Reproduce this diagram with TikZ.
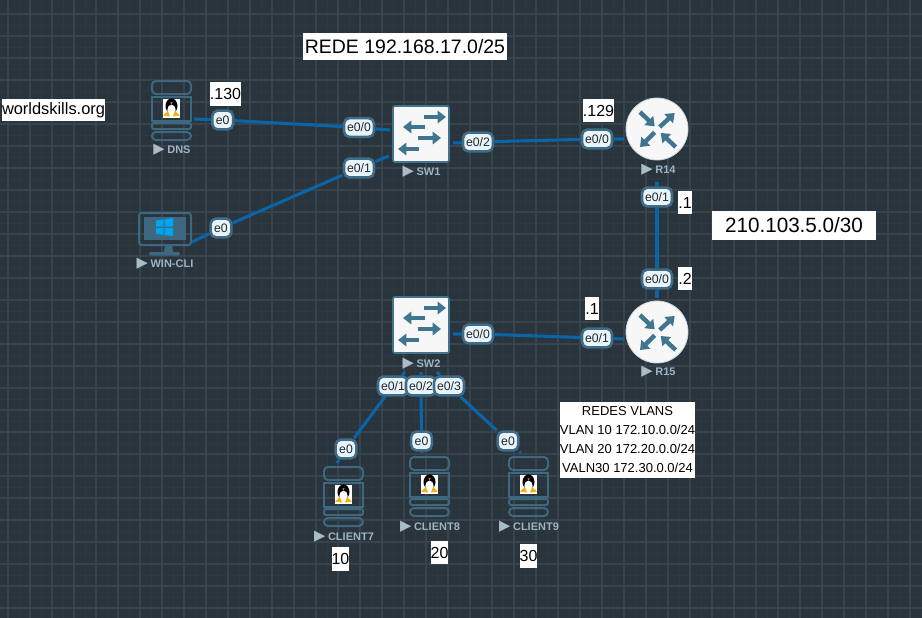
\documentclass[tikz,border=0pt]{standalone}
\usepackage{fontspec}
\setmainfont{Liberation Sans}
\newfontfamily\symfont{DejaVu Sans}
\usetikzlibrary{arrows.meta, positioning}
\definecolor{mybg}{RGB}{42,52,60}
\definecolor{mygrid}{RGB}{55,68,77}
\definecolor{myminor}{RGB}{46,56,64}
\definecolor{myicon}{RGB}{62,104,128}
\definecolor{myarrow}{RGB}{65,117,143}
\definecolor{mylink}{RGB}{10,100,168}
\definecolor{myport}{RGB}{232,244,252}
\definecolor{myportline}{RGB}{64,108,136}
\definecolor{mylabel}{RGB}{158,180,194}
\definecolor{myplay}{RGB}{170,188,198}
\definecolor{mywin}{RGB}{0,164,239}
\definecolor{mytux}{RGB}{245,175,20}
\newcommand{\devtext}[1]{{\symfont\color{myplay}\fontsize{11}{10}\selectfont ▶}\hspace{2pt}#1}

\begin{document}
\begin{tikzpicture}[x=0.75pt,y=-0.75pt,
    port/.style={draw=myportline,fill=myport,line width=1.9pt,rounded corners=4.2pt,inner sep=0pt,minimum height=14.2pt,font=\fontsize{9.2}{10}\selectfont,text=black!85},
    portwide/.style={port,minimum width=22.5pt},
    portshort/.style={port,minimum width=15.6pt},
    link/.style={draw=mylink,line width=2.3pt},
    devlabel/.style={font=\bfseries\fontsize{8.25}{10}\selectfont,text=mylabel,inner sep=0pt},
    whitebox/.style={fill=white,text=black,inner sep=0pt},
    swnode/.style={draw=myarrow,fill=white!97!black,line width=1.2pt,rounded corners=1.5pt,minimum size=42pt,inner sep=0pt},
    rtnode/.style={circle,fill=white!97!black,draw=white!70!myarrow,line width=0.6pt,minimum size=46.5pt,inner sep=0pt},
    devarrow/.style={draw=myarrow,line width=3.3pt,-{Triangle[length=6.2pt,width=9.2pt]}},
    srvline/.style={draw=myicon,line width=1.5pt},
    swarrows/.pic={
        \draw[devarrow] (3,-17) -- (25,-17);
        \draw[devarrow] (4,-7) -- (-18,-7);
        \draw[devarrow] (-3,4) -- (20,4);
        \draw[devarrow] (-2,15) -- (-23,15);
    },
    rtarrows/.pic={
        \draw[devarrow] (-17,-17) -- (-2.3,-2.7);
        \draw[devarrow] (2.7,-2) -- (17.7,-16);
        \draw[devarrow] (-2.3,3.3) -- (-17,18);
        \draw[devarrow] (18.7,18) -- (3.7,4);
    },
    tux/.pic={
        \fill[white] (-8.5,-9.5) rectangle (8.5,9.5);
        \fill[black] (0,-2) ellipse (6 and 7.5);
        \fill[black] (0,-6) ellipse (3.4 and 3.4);
        \fill[white] (0,2) ellipse (4.2 and 5.4);
        \fill[mytux] (-8.5,7.5) -- (-3.5,3) -- (-1.5,8.5) -- cycle;
        \fill[mytux] (8.5,7.5) -- (3.5,3) -- (1.5,8.5) -- cycle;
        \fill[mytux] (-1.2,-5.6) -- (1.2,-5.6) -- (0,-4) -- cycle;
    },
    server/.pic={
        \draw[srvline,rounded corners=3pt] (-19.5,-29) rectangle (19.5,-16);
        \draw[srvline] (-19.5,-13) rectangle (19.5,11);
        \draw[srvline,rounded corners=1.5pt] (-19.5,13) rectangle (19.5,19);
        \draw[srvline,rounded corners=3pt] (-19.5,22) rectangle (19.5,30);
        \pic at (0,-2) {tux};
    }]
    % background and grid
    \fill[mybg] (0,0) rectangle (922,618);
    \useasboundingbox (0,0) rectangle (922,618);
    \foreach \gx in {19,41,...,922} {
        \draw[myminor,line width=0.6pt] (\gx,0) -- (\gx,618);
    }
    \foreach \gy in {25,47,...,618} {
        \draw[myminor,line width=0.6pt] (0,\gy) -- (922,\gy);
    }
    \foreach \gx in {8,30,...,922} {
        \draw[mygrid,line width=0.8pt] (\gx,0) -- (\gx,618);
    }
    \foreach \gy in {14,36,...,618} {
        \draw[mygrid,line width=0.8pt] (0,\gy) -- (922,\gy);
    }

    % devices
    \node[swnode] (sw1) at (421,134) {};
    \node[swnode] (sw2) at (421,325) {};
    \node[rtnode] (r14) at (657,129) {};
    \node[rtnode] (r15) at (657,332) {};
    \foreach \dev in {sw1,sw2} {
        \pic at (\dev) {swarrows};
    }
    \foreach \dev in {r14,r15} {
        \pic at (\dev) {rtarrows};
    }
    \foreach \srv/\px/\py in {dns/171.5/110,client7/343.5/496,client8/429.5/486,client9/528.5/486} {
        \coordinate (\srv) at (\px,\py);
        \pic at (\srv) {server};
    }

    % windows client
    \coordinate (wincli) at (165,233);
    \draw[srvline,rounded corners=2pt] (139,213) rectangle (191,245);
    \fill[myicon] (144,217) rectangle (186,240);
    \fill[myicon] (165,245) -- (172,245) -- (173,252) -- (164,252) -- cycle;
    \fill[myicon,rounded corners=1pt] (149,252) rectangle (180,255.5);
    \fill[mywin] (156,220.5) -- (163.5,219.5) -- (163.5,226.7) -- (156,226.7) -- cycle;
    \fill[mywin] (164.7,219.3) -- (173,218) -- (173,226.7) -- (164.7,226.7) -- cycle;
    \fill[mywin] (156,227.8) -- (163.5,227.8) -- (163.5,234.8) -- (156,233.8) -- cycle;
    \fill[mywin] (164.7,227.8) -- (173,227.8) -- (173,236) -- (164.7,235) -- cycle;

    % device labels
    \node[devlabel] (dnslabel) at (172,150) {\devtext{DNS}};
    \node[devlabel] (winlabel) at (165,263.5) {\devtext{WIN-CLI}};
    \node[devlabel] (sw1label) at (421.5,172) {\devtext{SW1}};
    \node[devlabel] (sw2label) at (421.5,364) {\devtext{SW2}};
    \node[devlabel] (r14label) at (658.5,170) {\devtext{R14}};
    \node[devlabel] (r15label) at (658.5,372) {\devtext{R15}};
    \node[devlabel] (c7label) at (344,537) {\devtext{CLIENT7}};
    \node[devlabel] (c8label) at (430,527) {\devtext{CLIENT8}};
    \node[devlabel] (c9label) at (529,527) {\devtext{CLIENT9}};

    % ports
    \node[portshort] (dnse0) at (222.7,120) {e0};
    \node[portshort] (wine0) at (221,228) {e0};
    \node[portwide] (sw1p0) at (359,127.5) {e0/0};
    \node[portwide] (sw1p1) at (359,168) {e0/1};
    \node[portwide] (sw1p2) at (478,142) {e0/2};
    \node[portwide] (r14p0) at (597,139) {e0/0};
    \node[portwide] (r14p1) at (657,197) {e0/1};
    \node[portwide] (r15p0) at (657,279) {e0/0};
    \node[portwide] (sw2p0) at (478,334) {e0/0};
    \node[portwide] (r15p1) at (597,338) {e0/1};
    \node[portwide] (sw2p1) at (393,386) {e0/1};
    \node[portwide] (sw2p2) at (421,386) {e0/2};
    \node[portwide] (sw2p3) at (449,386) {e0/3};
    \node[portshort] (c7e0) at (346,449) {e0};
    \node[portshort] (c8e0) at (421.5,441) {e0};
    \node[portshort] (c9e0) at (508,441) {e0};

    % free ends of the links
    \coordinate (dnsout) at (194,119);
    \coordinate (winout) at (192,242);
    \coordinate (sw1a) at (390,130);
    \coordinate (sw1b) at (389,156);
    \coordinate (sw1c) at (453,143);
    \coordinate (r14a) at (624,139);
    \coordinate (r14b) at (657,182);
    \coordinate (r15a) at (657,298);
    \coordinate (sw2a) at (453,334);
    \coordinate (r15b) at (624,339);
    \coordinate (sw2b) at (405,372);
    \coordinate (sw2c) at (421,372);
    \coordinate (sw2d) at (437,372);
    \coordinate (c7in) at (337,463);
    \coordinate (c8in) at (422,453);
    \coordinate (c9in) at (521,453);

    % links
    \draw[link] (dnsout) -- (dnse0) -- (sw1p0) -- (sw1a);
    \draw[link] (winout) -- (wine0) -- (sw1p1) -- (sw1b);
    \draw[link] (sw1c) -- (sw1p2) -- (r14p0) -- (r14a);
    \draw[link] (r14b) -- (r14p1) -- (r15p0) -- (r15a);
    \draw[link] (sw2a) -- (sw2p0) -- (r15p1) -- (r15b);
    \draw[link] (sw2b) -- (sw2p1) -- (c7e0) -- (c7in);
    \draw[link] (sw2c) -- (sw2p2) -- (c8e0) -- (c8in);
    \draw[link] (sw2d) -- (sw2p3) -- (c9e0) -- (c9in);

    % white text boxes
    \node[whitebox,minimum width=153pt,minimum height=20.5pt,font=\fontsize{14.6}{16}\selectfont] (rede) at (405,46.5) {REDE 192.168.17.0/25};
    \node[whitebox,minimum width=123pt,minimum height=21.75pt,font=\fontsize{15.5}{17}\selectfont] (wan) at (794,225.5) {210.103.5.0/30};
    \node[whitebox,minimum width=77pt,minimum height=16.5pt,font=\fontsize{12.3}{14}\selectfont] (dominio) at (53.5,110) {worldskills.org};
    \node[whitebox,minimum width=23.2pt,minimum height=18pt,font=\fontsize{12}{14}\selectfont] (ipdns) at (225.5,94) {.130};
    \node[whitebox,minimum width=23.2pt,minimum height=17.2pt,font=\fontsize{12}{14}\selectfont] (ipr14) at (598.5,110.5) {.129};
    \foreach \ipname/\ipx/\ipy/\iptext in {ipwa/685/202.5/.1,ipwb/685/278.5/.2,iplan/592/308.5/.1} {
        \node[whitebox,minimum width=9pt,minimum height=17.2pt,font=\fontsize{12}{14}\selectfont] (\ipname) at (\ipx,\ipy) {\iptext};
    }
    \foreach \vname/\vx/\vy/\vtext in {vlana/340.5/559/10,vlanb/439.5/552.5/20,vlanc/528.5/556/30} {
        \node[whitebox,minimum width=12.8pt,minimum height=17.6pt,font=\fontsize{12}{14}\selectfont] (\vname) at (\vx,\vy) {\vtext};
    }
    \node[whitebox,minimum width=101pt,minimum height=57pt,align=center,font=\fontsize{9.75}{14.25}\selectfont] (redes) at (627.5,440) {REDES VLANS\\VLAN 10 172.10.0.0/24\\VLAN 20 172.20.0.0/24\\VALN30 172.30.0.0/24};
\end{tikzpicture}
\end{document}
